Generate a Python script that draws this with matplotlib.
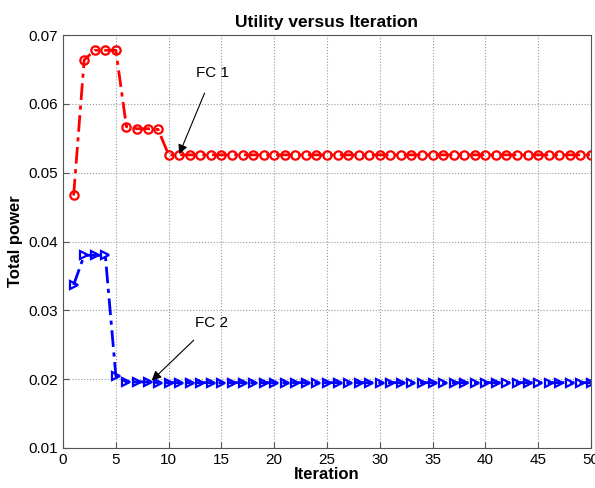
import matplotlib
matplotlib.use('Agg')
import matplotlib.pyplot as plt
import numpy as np

plt.rcParams['font.family'] = ['Liberation Sans', 'DejaVu Sans']

# dati
iterations = np.arange(1, 51)
fc1_head = [0.0467, 0.0664, 0.0678, 0.0678, 0.0678, 0.0567, 0.0564, 0.0564, 0.0563]
fc1_tail = 0.0526
fc2_head = [0.0337, 0.0380, 0.0380, 0.0380, 0.0205, 0.0196, 0.0196, 0.0196]
fc2_tail = 0.0195

fc1 = fc1_head + [fc1_tail] * (len(iterations) - len(fc1_head))
fc2 = fc2_head + [fc2_tail] * (len(iterations) - len(fc2_head))

fig = plt.figure(figsize=(5.95, 4.88), dpi=100)
ax = fig.add_axes([0.106, 0.082, 0.887, 0.846])

ax.plot(iterations, fc1, color='red', linestyle=(0, (6, 2, 1.5, 2)), linewidth=2,
        marker='o', markersize=6, markerfacecolor='none', markeredgewidth=1.6)
ax.plot(iterations, fc2, color='blue', linestyle=(0, (6, 2, 1.5, 2)), linewidth=2,
        marker='>', markersize=6, markerfacecolor='none', markeredgewidth=1.6)

ax.annotate('FC 1', xy=(11.0, 0.0527), xytext=(14.2, 0.0645),
            ha='center', va='center', fontsize=11,
            arrowprops=dict(arrowstyle='-|>', color='black', lw=0.8,
                            shrinkA=8, shrinkB=0, mutation_scale=14))
ax.annotate('FC 2', xy=(8.4, 0.0198), xytext=(14.1, 0.0282),
            ha='center', va='center', fontsize=11,
            arrowprops=dict(arrowstyle='-|>', color='black', lw=0.8,
                            shrinkA=8, shrinkB=0, mutation_scale=14))

ax.set_xlim(0, 50)
ax.set_ylim(0.01, 0.07)
ax.set_xticks(np.arange(0, 51, 5))
ax.set_yticks(np.arange(0.01, 0.071, 0.01))
ax.set_yticklabels(['0.01', '0.02', '0.03', '0.04', '0.05', '0.06', '0.07'])
ax.tick_params(labelsize=11, direction='in', length=4, color='#555555')
ax.grid(True, linestyle=':', color='#999999', linewidth=0.8)
for s in ax.spines.values():
    s.set_color('#555555')

ax.set_title('Utility versus Iteration', fontsize=12.5, fontweight='bold')
ax.set_xlabel('Iteration', fontsize=12, fontweight='bold', labelpad=0)
ax.set_ylabel('Total power', fontsize=12, fontweight='bold')

fig.savefig('out.png', dpi=100)
